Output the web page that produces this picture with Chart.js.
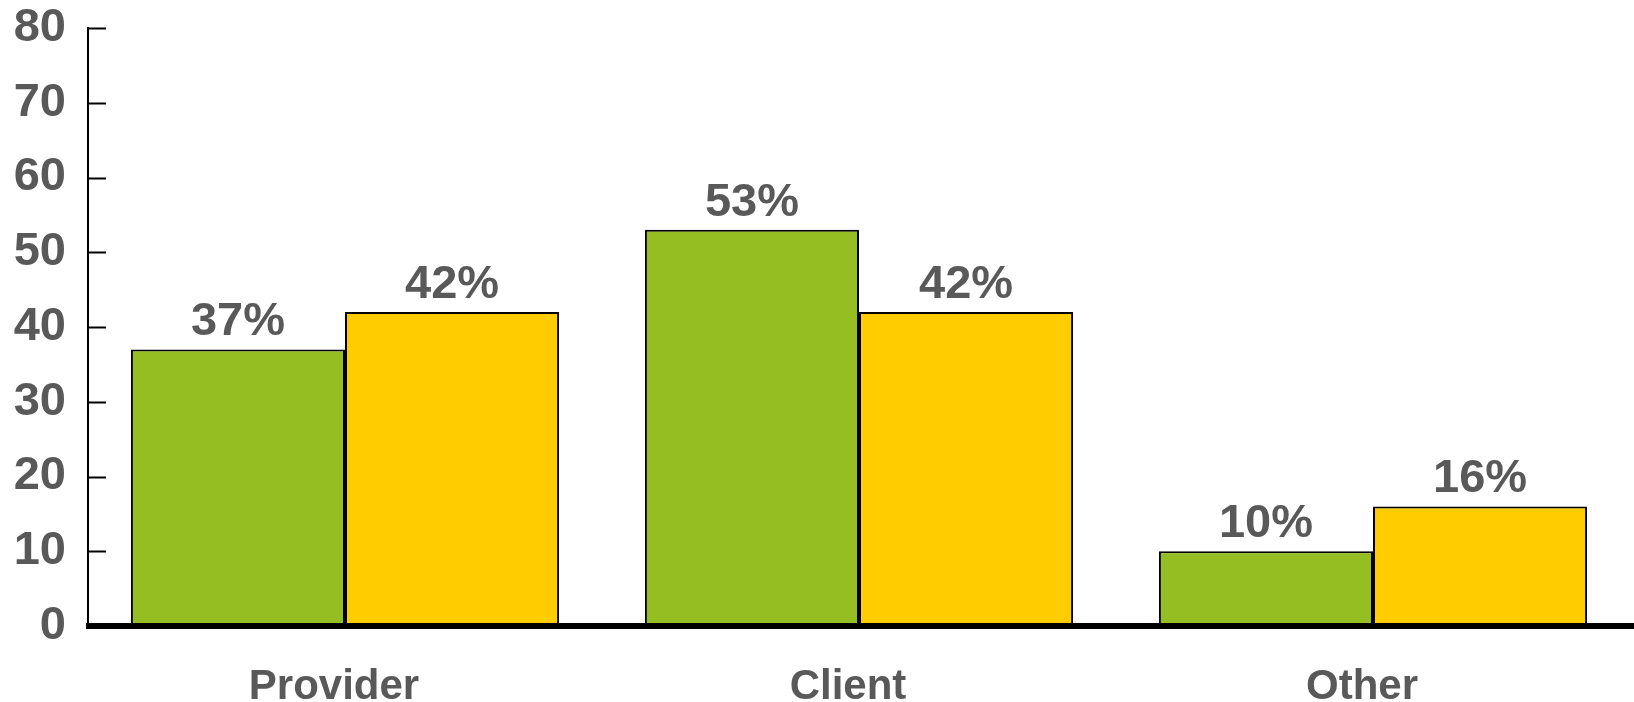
<!DOCTYPE html>
<html lang="en">
  <head>
    <meta charset="UTF-8">
    <title>Provider / Client / Other</title>
    <script src="https://cdn.jsdelivr.net/npm/chart.js@4.4.6/dist/chart.umd.min.js"></script>
    <style>
      html, body { margin: 0; padding: 0; background: #fff; }
      #wrap { width: 1634px; height: 702px; position: relative; }
    </style>
  </head>
  <body>
    <div id="wrap"><canvas id="chart"></canvas></div>
    <script>
      // values
      const categories = ["Provider", "Client", "Other"];
      const seriesA = [37, 53, 10];
      const seriesB = [42, 42, 16];
      const yTicks = [0, 10, 20, 30, 40, 50, 60, 70, 80];

      const TEXT = "#595959";
      const FONT = "'Liberation Sans', Arial, sans-serif";

      // inward tick marks, bold baseline and the % labels on top of bars
      const decorations = {
        id: "decorations",
        afterDatasetsDraw(chart) {
          const ctx = chart.ctx;
          const y = chart.scales.y;
          const area = chart.chartArea;
          ctx.save();
          ctx.strokeStyle = "#000";
          ctx.lineWidth = 2;
          yTicks.forEach(v => {
            const py = Math.round(y.getPixelForValue(v)) + 0.5;
            ctx.beginPath();
            ctx.moveTo(area.left, py);
            ctx.lineTo(area.left + 18, py);
            ctx.stroke();
          });
          // thick zero line
          const zero = y.getPixelForValue(0);
          ctx.fillStyle = "#000";
          ctx.fillRect(area.left - 2, zero - 3, chart.width - area.left + 2, 6);

          ctx.font = "bold 47px " + FONT;
          ctx.fillStyle = TEXT;
          ctx.textAlign = "center";
          ctx.textBaseline = "alphabetic";
          chart.data.datasets.forEach((ds, i) => {
            chart.getDatasetMeta(i).data.forEach((bar, j) => {
              ctx.fillText(ds.data[j] + "%", bar.x, bar.y - 14);
            });
          });
          ctx.restore();
        }
      };

      new Chart(document.getElementById("chart"), {
        type: "bar",
        data: {
          labels: categories,
          datasets: [
            { data: seriesA, backgroundColor: "#95BE22", borderColor: "#000", borderWidth: 2, borderSkipped: false },
            { data: seriesB, backgroundColor: "#FFCC00", borderColor: "#000", borderWidth: 2, borderSkipped: false }
          ]
        },
        options: {
          responsive: true,
          maintainAspectRatio: false,
          animation: false,
          layout: { padding: { top: 28, right: 4 } },
          datasets: { bar: { barPercentage: 1, categoryPercentage: 0.833 } },
          plugins: { legend: { display: false }, tooltip: { enabled: false } },
          scales: {
            x: {
              grid: { display: false, drawTicks: false },
              border: { display: false },
              afterFit: s => { s.height = 76; },
              ticks: { color: TEXT, padding: 36, labelOffset: -11, font: { family: FONT, size: 42, weight: "bold" } }
            },
            y: {
              min: 0,
              max: 80,
              afterFit: s => { s.width = 88; s.paddingTop = 0; s.paddingBottom = 0; },
              afterBuildTicks: s => { s.ticks = yTicks.map(v => ({ value: v })); },
              grid: { display: false, drawTicks: false },
              border: { display: true, color: "#000", width: 2 },
              ticks: { color: TEXT, padding: 22, font: { family: FONT, size: 47, weight: "bold" } }
            }
          }
        },
        plugins: [decorations]
      });
    </script>
  </body>
</html>
